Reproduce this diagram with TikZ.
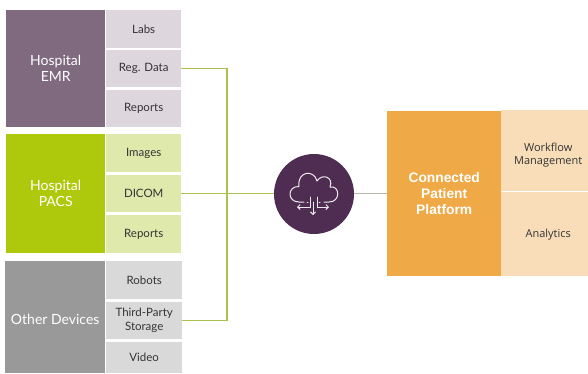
\documentclass[tikz,border=0pt]{standalone}
\usepackage{fontspec}
\setmainfont{Lato}
\newfontfamily\platformfont{Liberation Sans}
\newfontfamily\sidefont{Open Sans}
\usetikzlibrary{arrows.meta}
\definecolor{emrdark}{HTML}{7F6A80}
\definecolor{emrlight}{HTML}{DDD6DD}
\definecolor{pacsdark}{HTML}{AEC90B}
\definecolor{pacslight}{HTML}{E0E9AC}
\definecolor{otherdark}{HTML}{999999}
\definecolor{otherlight}{HTML}{D9D9D9}
\definecolor{hubfill}{HTML}{4F2D52}
\definecolor{platdark}{HTML}{EFA946}
\definecolor{platlight}{HTML}{F9DDB9}
\definecolor{wiregreen}{HTML}{A9C152}
\definecolor{wiregray}{HTML}{B4B8A4}
\tikzset{
  block/.style={inner sep=0pt,align=center,font=\fontsize{14}{16}\selectfont,text=white,anchor=north west},
  cell/.style={inner sep=0pt,align=center,font=\fontsize{11.5}{14}\selectfont,text=black!80,anchor=north west,minimum width=75pt},
  side/.style={inner sep=0pt,align=center,font=\sidefont\fontsize{11}{12.5}\selectfont,text=black!80,anchor=north west,minimum width=94pt},
  wire/.style={draw=wiregreen,line width=1.4pt},
  icon/.style={draw=white!90!hubfill,line width=1pt,line cap=round,line join=round},
  tip/.style={-{Straight Barb[length=2.5pt,width=5pt]}}
}
\begin{document}
\begin{tikzpicture}[x=1pt,y=-1pt]
\useasboundingbox (0,0) rectangle (588,373);
% hospital emr
\node [block,fill=emrdark,minimum width=99pt,minimum height=117pt] (emr) at (6,10) {Hospital\\EMR};
\node [cell,fill=emrlight,minimum height=38pt] (labs) at (106,10) {Labs};
\node [cell,fill=emrlight,minimum height=37pt] (regdata) at (106,50) {Reg. Data};
\node [cell,fill=emrlight,minimum height=37pt] (emrreports) at (106,90) {Reports};
% hospital pacs
\node [block,fill=pacsdark,minimum width=99pt,minimum height=119pt] (pacs) at (6,134) {Hospital\\PACS};
\node [cell,fill=pacslight,minimum height=38pt] (images) at (106,134) {Images};
\node [cell,fill=pacslight,minimum height=37pt] (dicom) at (106,175) {DICOM};
\node [cell,fill=pacslight,minimum height=38pt] (pacsreports) at (106,215) {Reports};
% other devices
\node [block,fill=otherdark,minimum width=100pt,minimum height=112pt,text height=17pt,text depth=3pt] (other) at (5,261) {Other Devices};
\node [cell,fill=otherlight,minimum width=76pt,minimum height=38pt] (robots) at (106,261) {Robots};
\node [cell,fill=otherlight,minimum width=76pt,minimum height=37pt] (storage) at (106,302) {Third-Party\\Storage};
\node [cell,fill=otherlight,minimum width=76pt,minimum height=31pt] (video) at (106,342) {Video};
% platform
\node [block,fill=platdark,minimum width=114pt,minimum height=165pt,font=\platformfont\bfseries\fontsize{13.8}{16}\selectfont] (platform) at (387,111) {Connected\\Patient\\Platform};
\node [side,fill=platlight,minimum height=81pt] (workflow) at (501,110) {\rule{0pt}{17pt}Workflow\\Management};
\node [side,fill=platlight,minimum height=84pt] (analytics) at (501,192) {Analytics};
% hub
\node [circle,fill=hubfill,minimum size=80pt,inner sep=0pt] (hub) at (314,194) {};
\coordinate (bus) at (227,193);
% connectors
\draw [wire,line join=miter] (regdata.east) -| (bus) |- (storage.east);
\draw [wire] (dicom.east) -- (hub.west |- dicom.east);
\draw [draw=wiregray,line width=1.4pt] (hub.east |- dicom.east) -- (platform.west |- dicom.east);
% cloud icon
\begin{scope}[shift={(hub.center)}]
\draw [icon] (-10,8) -- (-15,8) .. controls (-27,8) and (-27,-8) .. (-15,-7.5)
  .. controls (-17,-23) and (0,-25) .. (3,-13) .. controls (8,-21) and (20,-17) .. (16,-7)
  .. controls (26,-9) and (27,8) .. (15,8) -- (10,8);
\draw [icon] (-7,8) -- (-6,8) (5,8) -- (6,8);
\draw [icon,tip] (-4,3) -- (-4,13) -- (-17,13);
\draw [icon,tip] (3,3) -- (3,13) -- (15,13);
\draw [icon,tip] (-1,8) -- (-1,21);
\end{scope}
\end{tikzpicture}
\end{document}
